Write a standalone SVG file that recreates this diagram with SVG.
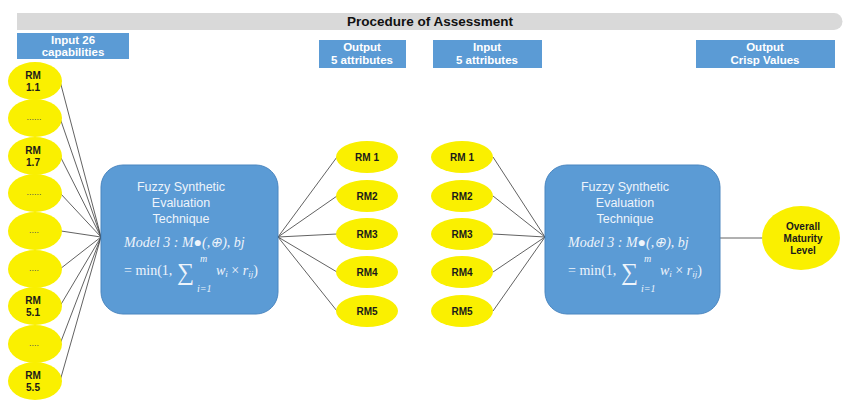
<svg xmlns="http://www.w3.org/2000/svg" width="843" height="400" viewBox="0 0 843 400">
<style>
.lbl{fill:#5B9BD5}
.lt{font-family:"Liberation Sans",Arial,sans-serif;font-size:11.5px;font-weight:bold;fill:#ffffff;text-anchor:middle}
.ell{fill:#FAF000}
.et{font-family:"Liberation Sans",Arial,sans-serif;font-size:10px;font-weight:bold;fill:#1a1a1a;text-anchor:middle}
.dots{font-family:"Liberation Sans",Arial,sans-serif;font-size:9px;fill:#555;text-anchor:middle}
.box{fill:#5B9BD5;stroke:#4A86C0;stroke-width:1}
.bt{font-family:"Liberation Sans",Arial,sans-serif;font-size:12.5px;fill:#EEF4FB;text-anchor:middle}
.fm{font-family:"Liberation Serif","Times New Roman",serif;font-size:14px;font-style:italic;fill:#EEF4FB}
.fr{font-family:"Liberation Serif","Times New Roman",serif;font-size:14px;fill:#EEF4FB}
.sum{font-family:"Liberation Serif","Times New Roman",serif;font-size:24px;fill:#EEF4FB}
.fs{font-family:"Liberation Serif","Times New Roman",serif;font-size:10px;font-style:italic;fill:#EEF4FB}
.con line{stroke:#3a3a3a;stroke-width:0.8}
</style>

<g id="header">
<path d="M17,13 H834 A8.5,8.5 0 0 1 834,30 H17 Z" fill="#D9D9D9"/>
<text x="430" y="26" font-family="Liberation Sans,Arial,sans-serif" font-size="13.5px" font-weight="bold" fill="#111" text-anchor="middle">Procedure of Assessment</text>
</g>

<g id="label-input26"><rect class="lbl" x="17" y="33" width="112" height="26"/><text class="lt" x="73" y="44">Input 26</text><text class="lt" x="73" y="56">capabilities</text></g>
<g id="label-output5"><rect class="lbl" x="319" y="40" width="87" height="28"/><text class="lt" x="362" y="51">Output</text><text class="lt" x="362" y="64">5 attributes</text></g>
<g id="label-input5"><rect class="lbl" x="433" y="40" width="109" height="28"/><text class="lt" x="487" y="51">Input</text><text class="lt" x="487" y="64">5 attributes</text></g>
<g id="label-crisp"><rect class="lbl" x="696" y="40" width="139" height="28"/><text class="lt" x="765" y="51">Output</text><text class="lt" x="765" y="64">Crisp Values</text></g>

<g class="con" id="connectors">
<line x1="60" y1="81" x2="101" y2="237"/>
<line x1="60" y1="118" x2="101" y2="237"/>
<line x1="60" y1="156" x2="101" y2="237"/>
<line x1="60" y1="193" x2="101" y2="237"/>
<line x1="61" y1="231" x2="101" y2="237"/>
<line x1="60" y1="269" x2="101" y2="237"/>
<line x1="60" y1="306" x2="101" y2="237"/>
<line x1="60" y1="344" x2="101" y2="237"/>
<line x1="60" y1="381" x2="101" y2="237"/>
<line x1="278" y1="237" x2="337" y2="157"/>
<line x1="278" y1="237" x2="337" y2="196"/>
<line x1="278" y1="237" x2="337" y2="234"/>
<line x1="278" y1="237" x2="337" y2="272"/>
<line x1="278" y1="237" x2="337" y2="311"/>
<line x1="493" y1="157" x2="545" y2="237"/>
<line x1="493" y1="196" x2="545" y2="237"/>
<line x1="493" y1="234" x2="545" y2="237"/>
<line x1="493" y1="272" x2="545" y2="237"/>
<line x1="493" y1="311" x2="545" y2="237"/>
<line x1="720" y1="238" x2="762" y2="238"/>
</g>

<g id="rm11"><ellipse class="ell" cx="35" cy="81" rx="27" ry="19"/><text class="et" x="33" y="79">RM</text><text class="et" x="33" y="91">1.1</text></g>
<g id="dots1"><ellipse class="ell" cx="35" cy="118" rx="27" ry="19"/><text class="dots" x="34" y="120">......</text></g>
<g id="rm17"><ellipse class="ell" cx="35" cy="156" rx="27" ry="19"/><text class="et" x="33" y="154">RM</text><text class="et" x="33" y="166">1.7</text></g>
<g id="dots2"><ellipse class="ell" cx="35" cy="193" rx="27" ry="19"/><text class="dots" x="34" y="195">......</text></g>
<g id="dots3"><ellipse class="ell" cx="35" cy="231" rx="27" ry="19"/><text class="dots" x="34" y="233">....</text></g>
<g id="dots4"><ellipse class="ell" cx="35" cy="269" rx="27" ry="19"/><text class="dots" x="34" y="271">....</text></g>
<g id="rm51"><ellipse class="ell" cx="35" cy="306" rx="27" ry="19"/><text class="et" x="33" y="304">RM</text><text class="et" x="33" y="316">5.1</text></g>
<g id="dots5"><ellipse class="ell" cx="35" cy="344" rx="27" ry="19"/><text class="dots" x="34" y="346">....</text></g>
<g id="rm55"><ellipse class="ell" cx="35" cy="381" rx="27" ry="19"/><text class="et" x="33" y="379">RM</text><text class="et" x="33" y="391">5.5</text></g>

<g id="fuzzy1">
<rect class="box" x="101" y="165" width="177" height="149" rx="22"/>
<text class="bt" x="181" y="191">Fuzzy Synthetic</text>
<text class="bt" x="181" y="207">Evaluation</text>
<text class="bt" x="181" y="223">Technique</text>
<text class="fm" x="124" y="247">Model 3 : M●(,⊕), bj</text>
<text class="fr" x="124" y="275">= min(1,</text>
<text class="sum" x="177" y="280">∑</text>
<text class="fs" x="200" y="262">m</text>
<text class="fs" x="197" y="292">i=1</text>
<text class="fm" x="216" y="275">w<tspan style="font-size:9px" dy="2">i</tspan><tspan dy="-2" style="font-style:normal"> × </tspan>r<tspan style="font-size:9px" dy="2">ij</tspan><tspan dy="-2" style="font-style:normal">)</tspan></text>
</g>

<g id="mid-rm1"><ellipse class="ell" cx="367" cy="157" rx="31" ry="16"/><text class="et" x="367" y="161">RM 1</text></g>
<g id="mid-rm2"><ellipse class="ell" cx="367" cy="196" rx="31" ry="16"/><text class="et" x="367" y="200">RM2</text></g>
<g id="mid-rm3"><ellipse class="ell" cx="367" cy="234" rx="31" ry="16"/><text class="et" x="367" y="238">RM3</text></g>
<g id="mid-rm4"><ellipse class="ell" cx="367" cy="272" rx="31" ry="16"/><text class="et" x="367" y="276">RM4</text></g>
<g id="mid-rm5"><ellipse class="ell" cx="367" cy="311" rx="31" ry="16"/><text class="et" x="367" y="315">RM5</text></g>

<g id="in-rm1"><ellipse class="ell" cx="462" cy="157" rx="31" ry="16"/><text class="et" x="462" y="161">RM 1</text></g>
<g id="in-rm2"><ellipse class="ell" cx="462" cy="196" rx="31" ry="16"/><text class="et" x="462" y="200">RM2</text></g>
<g id="in-rm3"><ellipse class="ell" cx="462" cy="234" rx="31" ry="16"/><text class="et" x="462" y="238">RM3</text></g>
<g id="in-rm4"><ellipse class="ell" cx="462" cy="272" rx="31" ry="16"/><text class="et" x="462" y="276">RM4</text></g>
<g id="in-rm5"><ellipse class="ell" cx="462" cy="311" rx="31" ry="16"/><text class="et" x="462" y="315">RM5</text></g>

<g id="fuzzy2">
<rect class="box" x="545" y="165" width="175" height="149" rx="22"/>
<text class="bt" x="625" y="191">Fuzzy Synthetic</text>
<text class="bt" x="625" y="207">Evaluation</text>
<text class="bt" x="625" y="223">Technique</text>
<text class="fm" x="568" y="247">Model 3 : M●(,⊕), bj</text>
<text class="fr" x="568" y="275">= min(1,</text>
<text class="sum" x="621" y="280">∑</text>
<text class="fs" x="644" y="262">m</text>
<text class="fs" x="641" y="292">i=1</text>
<text class="fm" x="660" y="275">w<tspan style="font-size:9px" dy="2">i</tspan><tspan dy="-2" style="font-style:normal"> × </tspan>r<tspan style="font-size:9px" dy="2">ij</tspan><tspan dy="-2" style="font-style:normal">)</tspan></text>
</g>

<g id="overall"><ellipse class="ell" cx="801" cy="238" rx="39" ry="32"/><text class="et" x="803" y="230">Overall</text><text class="et" x="803" y="242">Maturity</text><text class="et" x="803" y="254">Level</text></g>
</svg>
